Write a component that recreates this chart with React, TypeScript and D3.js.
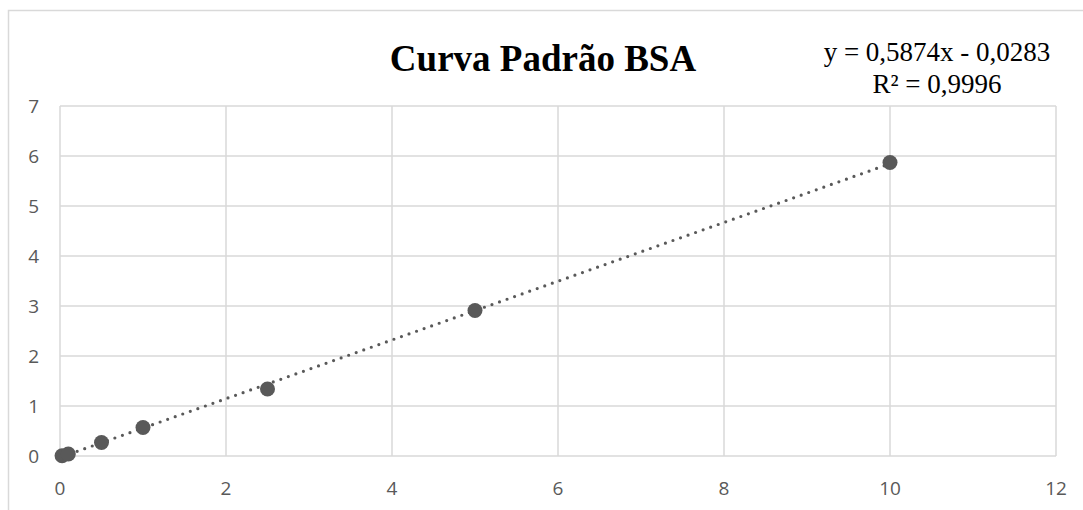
import React from "react";
import * as d3 from "d3";

// concentração (x) x absorbância (y)
const concentrations = [0.025, 0.1, 0.5, 1, 2.5, 5, 10];
const absorbances = [0.005, 0.04, 0.27, 0.57, 1.34, 2.91, 5.87];
const xTicks = [0, 2, 4, 6, 8, 10, 12];
const yTicks = [0, 1, 2, 3, 4, 5, 6, 7];
const slope = 0.5874;
const intercept = -0.0283;
const equationLines = ["y = 0,5874x - 0,0283", "R² = 0,9996"];

const W = 1083;
const H = 510;
const margin = { left: 60, right: 27, top: 106, bottom: 54 };

const App = () => {
  const x = d3.scaleLinear().domain([0, 12]).range([margin.left, W - margin.right]);
  const y = d3.scaleLinear().domain([0, 7]).range([H - margin.bottom, margin.top]);
  const points = concentrations.map((c, i) => ({ c, a: absorbances[i] }));

  const x0 = d3.min(concentrations) as number;
  const x1 = d3.max(concentrations) as number;
  const trend = d3
    .line<number>()
    .x((d) => x(d))
    .y((d) => y(slope * d + intercept))([x0, x1]);

  const grid = "#d9d9d9";
  const ink = "#595959";

  return (
    <svg
      width={W}
      height={H}
      style={{ position: "absolute", left: 0, top: 0, background: "#fff" }}
    >
      <rect x={8.5} y={10.5} width={W + 10} height={H + 10} fill="#fff" stroke={grid} strokeWidth={1.5} />

      <text
        x={543}
        y={71}
        textAnchor="middle"
        fontFamily="'Liberation Serif', 'Times New Roman', serif"
        fontWeight="bold"
        fontSize={37}
        fill="#000"
      >
        Curva Padrão BSA
      </text>
      {equationLines.map((t, i) => (
        <text
          key={t}
          x={937}
          y={61 + i * 32}
          textAnchor="middle"
          fontFamily="'Liberation Serif', 'Times New Roman', serif"
          fontSize={27}
          fill="#000"
        >
          {t}
        </text>
      ))}

      {yTicks.map((t) => (
        <line key={"gy" + t} x1={x(0)} x2={x(12)} y1={y(t)} y2={y(t)} stroke={grid} strokeWidth={1.5} />
      ))}
      {xTicks.map((t) => (
        <line key={"gx" + t} x1={x(t)} x2={x(t)} y1={y(0)} y2={y(7)} stroke={grid} strokeWidth={1.5} />
      ))}

      {yTicks.map((t) => (
        <text
          key={"ly" + t}
          x={39}
          y={y(t)}
          dy="0.35em"
          textAnchor="end"
          fontFamily="'Open Sans', sans-serif"
          fontSize={19}
          fill={ink}
        >
          {t}
        </text>
      ))}
      {xTicks.map((t) => (
        <text
          key={"lx" + t}
          x={x(t)}
          y={495}
          textAnchor="middle"
          fontFamily="'Open Sans', sans-serif"
          fontSize={19}
          fill={ink}
        >
          {t}
        </text>
      ))}

      <path
        d={trend ?? ""}
        fill="none"
        stroke={ink}
        strokeWidth={3.2}
        strokeLinecap="round"
        strokeDasharray="0 8"
      />

      {points.map((p, i) => (
        <circle key={i} cx={x(p.c)} cy={y(p.a)} r={7.5} fill={ink} />
      ))}
    </svg>
  );
};

export default App;
